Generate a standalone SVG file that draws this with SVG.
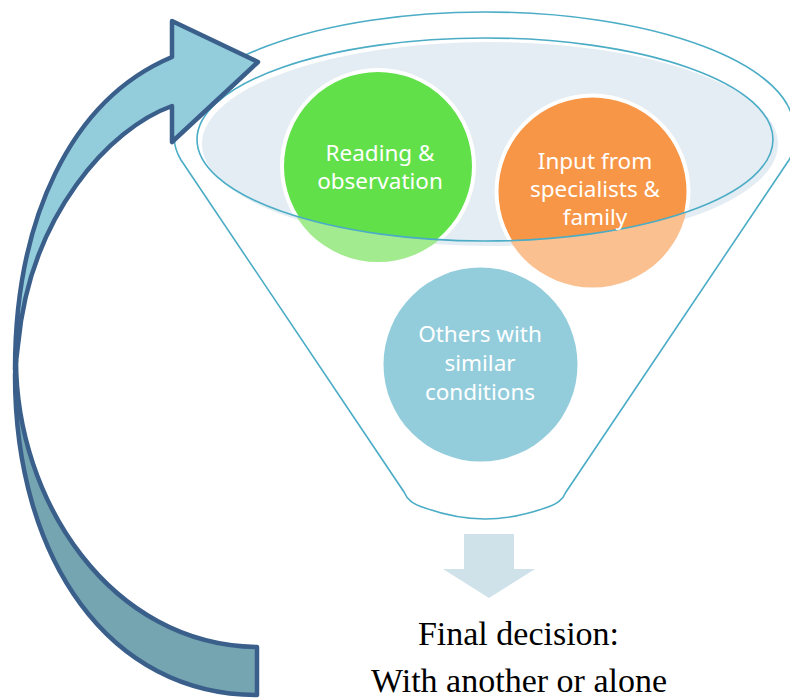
<svg xmlns="http://www.w3.org/2000/svg" width="790" height="698" viewBox="0 0 790 698">
  <style>
    .fn { fill: none; stroke: #4BACC6; stroke-width: 1.6; }
    .ring { stroke: #FFFFFF; stroke-width: 4; }
    .lbl { font-family: "Noto Sans", "Open Sans", sans-serif; font-size: 22.5px; fill: #FFFFFF; text-anchor: middle; }
    .big { font-family: "Liberation Serif", "Times New Roman", serif; font-size: 34px; fill: #000000; text-anchor: middle; }
    .arr { stroke: #3A5F8B; stroke-width: 4.5; stroke-linejoin: round; }
  </style>
  <defs>
    <clipPath id="bowl">
      <ellipse cx="485" cy="139.5" rx="288" ry="101.5"/>
    </clipPath>
  </defs>
  <rect width="790" height="698" fill="#FFFFFF"/>

  <g id="funnel">
    <path class="fn" d="M176,129 A309,117 0 0 1 794,129"/>
    <path class="fn" d="M176,129 Q171,143 181,160 L404,492 C407,499 412,504 425,508 C445,515 465,519 485,519 C505,519 525,515 545,508 C558,504 563,499 566,492 L789,160 Q799,143 794,129"/>
    <ellipse cx="490" cy="144" rx="288" ry="102" fill="#E4EDF3"/>
  </g>

  <g id="node-reading">
    <circle cx="378" cy="166" r="96" fill="#A2EB8E"/>
    <circle cx="378" cy="166" r="96" fill="#62E04A" class="ring" clip-path="url(#bowl)"/>
    <text class="lbl" x="380" y="161">Reading &amp;</text>
    <text class="lbl" x="380" y="189">observation</text>
  </g>

  <g id="node-input">
    <circle cx="592.5" cy="191.5" r="96" fill="#FAC090"/>
    <circle cx="592.5" cy="191.5" r="96" fill="#F79646" class="ring" clip-path="url(#bowl)"/>
  </g>

  <g id="node-others">
    <circle cx="480.5" cy="364.5" r="97" fill="#93CDDC"/>
    <text class="lbl" x="480" y="342">Others with</text>
    <text class="lbl" x="480" y="371">similar</text>
    <text class="lbl" x="480" y="400">conditions</text>
  </g>

  <g id="bowl-rim">
    <ellipse class="fn" cx="485" cy="139.5" rx="288" ry="101.5" stroke-width="1.8"/>
  </g>

  <g id="node-input-text">
    <text class="lbl" x="595" y="169">Input from</text>
    <text class="lbl" x="595" y="197">specialists &amp;</text>
    <text class="lbl" x="595" y="225">family</text>
  </g>

  <g id="connectors">
    <path id="loop-back" class="arr" fill="#74A5B1" d="M257,695 C110,695 15,560 15,375 L16,360 C16,500 110,645 257,647 Z"/>
    <path id="loop-front" class="arr" fill="#93CDDC" d="M172,106 C110,128 30,215 18,345 L15,370 C15,220 70,100 172,57 L172,21 L258,62 L172,142 Z"/>
    <polygon id="down-arrow" fill="#CFE2EA" points="464,534 514,534 514,569 535,569 489,598 443,569 464,569"/>
  </g>

  <g id="node-final">
    <text class="big" x="518.5" y="645">Final decision:</text>
    <text class="big" x="519" y="692">With another or alone</text>
  </g>
</svg>
